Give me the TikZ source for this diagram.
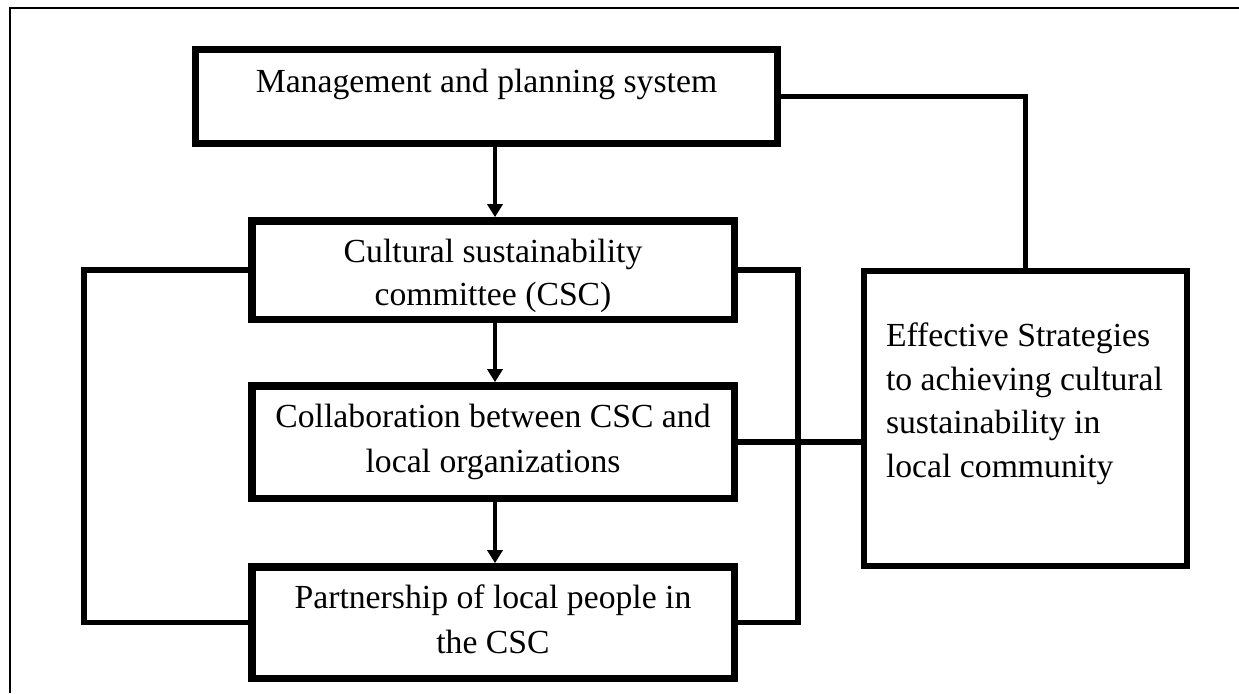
\documentclass[tikz,border=0pt]{standalone}
\usepackage{fontspec}
\setmainfont{Liberation Serif}
\usetikzlibrary{arrows.meta}
\begin{document}
\begin{tikzpicture}[x=0.5pt,y=-0.5pt,
  every node/.style={inner sep=0pt, outer sep=0pt},
  txt/.style={font=\fontsize{16.85pt}{22.25pt}\selectfont, anchor=base},
  ltxt/.style={txt, anchor=base west},
  boxA/.style={draw=black, fill=white, rectangle, line width=3.5pt},
  boxB/.style={draw=black, fill=white, rectangle, line width=3.75pt,
               minimum width=241.25pt},
  boxC/.style={draw=black, fill=white, rectangle, line width=3pt},
  conn/.style={draw=black, line width=2.6pt, line join=miter},
  arr/.style={draw=black, line width=1.75pt,
              -{Triangle[length=6.5pt,width=7.5pt]}, shorten >=1.8pt},
  frameline/.style={draw=black, line width=1pt}
]
\useasboundingbox (0,0) rectangle (1239,693);

% frame along the left and top edges
\draw[frameline] (10,693) -- (10,8.3) -- (1239,8.3);

% guide coordinates for the vertical runs
\coordinate (lb) at (84,0);
\coordinate (rb) at (798,0);
\coordinate (ax) at (495,0);

% boxes
\node[boxA, minimum width=291pt, minimum height=47pt] (m) at (486.5,96.5) {};
\node[boxB, minimum height=49.25pt] (c) at (493,270) {};
\node[boxB, minimum height=56.25pt] (o) at (493,442) {};
\node[boxB, minimum height=55.75pt] (p) at (493,622.5) {};
\node[boxC, minimum width=161.5pt, minimum height=147.5pt] (e) at (1025.5,418.5) {};

% connectors
\draw[conn] (m.east) -| (e.north);
\draw[conn] (c.west) -- (c.west -| lb) |- (p.west);
\draw[conn] (c.east) -- (c.east -| rb) |- (p.east);
\draw[conn] (o.east) -- (o.east -| e.west);

% downward arrows
\draw[arr] (m.south -| ax) -- (c.north -| ax);
\draw[arr] (c.south -| ax) -- (o.north -| ax);
\draw[arr] (o.south -| ax) -- (p.north -| ax);

% redraw boxes over the connector ends
\node[boxA, minimum width=291pt, minimum height=47pt] at (m) {};
\node[boxB, minimum height=49.25pt] at (c) {};
\node[boxB, minimum height=56.25pt] at (o) {};
\node[boxB, minimum height=55.75pt] at (p) {};
\node[boxC, minimum width=161.5pt, minimum height=147.5pt] at (e) {};

% labels
\node[txt] (m1) at (486.5,92) {Management and planning system};
\node[txt] (c1) at (493,262) {Cultural sustainability};
\node[txt] (c2) at (493,305) {committee (CSC)};
\node[txt] (o1) at (493,427) {Collaboration between CSC and};
\node[txt] (o2) at (493,472) {local organizations};
\node[txt] (p1) at (493,608) {Partnership of local people in};
\node[txt] (p2) at (493,653) {the CSC};
\node[ltxt] (e1) at (886,346) {Effective Strategies};
\node[ltxt] (e2) at (886,390) {to achieving cultural};
\node[ltxt] (e3) at (886,433) {sustainability in};
\node[ltxt] (e4) at (886,477) {local community};
\end{tikzpicture}
\end{document}
